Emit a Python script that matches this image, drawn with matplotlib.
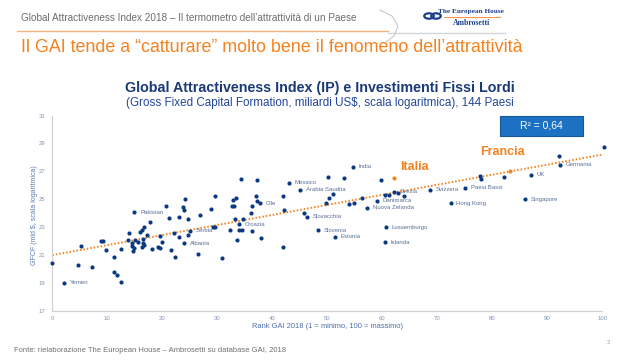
import matplotlib.pyplot as plt
from matplotlib import font_manager
from matplotlib.patches import Rectangle, Circle
from matplotlib.lines import Line2D

names = {f.name for f in font_manager.fontManager.ttflist}
if 'Liberation Sans Narrow' in names:
    NARROW, k = 'Liberation Sans Narrow', 1.0
else:
    NARROW, k = 'Liberation Sans', 0.82
plt.rcParams['font.family'] = 'Liberation Sans'

# Rank GAI 2018 (x) vs GFCF, scala logaritmica (y)
rank = [0.0, 2.2, 4.7, 5.3, 7.3, 8.9, 9.2, 9.8, 11.3, 11.3, 11.8, 12.4, 12.5,
        13.8, 13.9, 14.9, 14.4, 14.5, 14.8, 14.7, 15.1, 15.6, 15.9, 16.25,
        16.7, 16.5, 16.4, 16.6, 16.3, 17.2, 17.7, 18.1, 19.2, 19.5, 19.6,
        19.9, 20.6, 21.2, 21.5, 22.1, 22.3, 23.0, 23.0, 23.8, 23.9, 24.1,
        24.0, 24.7, 24.7, 25.1, 26.5, 26.9, 28.9, 29.6, 29.2, 29.5, 30.8,
        32.3, 32.8, 33.4, 32.7, 33.0, 33.2, 33.5, 33.9, 34.0, 34.4, 34.3,
        34.7, 36.2, 36.3, 36.3, 37.1, 37.2, 37.3, 37.7, 37.9, 41.9, 41.9,
        42.1, 43.0, 45.0, 45.8, 46.3, 48.3, 50.1, 50.3, 49.8, 51.0, 51.4,
        53.0, 54.6, 54.0, 54.9, 56.3, 57.2, 59.0, 59.8, 60.4, 61.3, 62.1,
        62.9, 63.9, 60.6, 60.5, 68.6, 72.4, 75.1, 77.8, 77.9, 82.1, 87.0,
        85.9, 92.2, 92.3, 100.3]
gfcf = [20.45, 19.03, 20.3, 21.66, 20.15, 22.04, 22.04, 21.4, 20.87, 19.82,
        19.6, 19.08, 21.42, 22.08, 22.6, 24.07, 21.85, 21.66, 21.5, 21.27,
        22.1, 21.96, 22.66, 22.8, 23.0, 22.18, 21.9, 21.75, 21.58, 22.44,
        23.4, 21.44, 21.6, 21.5, 22.37, 21.94, 24.5, 23.66, 21.39, 22.56,
        20.87, 23.7, 22.32, 24.47, 21.85, 25.02, 24.2, 23.6, 22.44, 22.75,
        21.1, 23.88, 24.33, 25.26, 23.0, 23.04, 20.77, 22.82, 24.95, 25.1,
        24.5, 24.5, 23.6, 22.1, 23.2, 22.8, 22.8, 26.45, 23.57, 24.0, 22.73,
        24.5, 25.26, 26.4, 24.9, 24.7, 22.25, 25.2, 21.56, 24.2, 26.2, 25.7,
        24.0, 23.75, 22.8, 26.58, 25.07, 24.76, 25.36, 22.32, 26.53, 27.34,
        24.66, 24.76, 25.07, 24.38, 24.88, 26.38, 25.29, 25.31, 25.55, 25.43,
        25.2, 23.0, 21.94, 25.7, 24.73, 25.83, 26.67, 26.43, 26.62, 26.74,
        25.02, 28.11, 27.49, 28.76]
country = ['', 'Yemen', '', '', '', '', '', '', '', '', '', '', '', '', '',
           'Pakistan', '', '', '', '', '', '', '', '', '', '', '', '', '',
           '', '', '', '', '', '', '', '', '', '', '', '', '', '', '',
           'Albania', '', '', '', '', 'Serbia', '', '', '', '', '', '', '',
           '', '', '', '', '', '', '', 'Croazia', '', '', '', '', '', '',
           '', '', '', '', 'Cile', '', '', '', '', 'Messico',
           'Arabia Saudita', '', 'Slovacchia', 'Slovenia', '', '', '', '',
           'Estonia', '', 'India', '', '', '', 'Nuova Zelanda', 'Danimarca',
           '', '', '', 'Svezia', '', '', 'Lussemburgo', 'Islanda',
           'Svizzera', 'Hong Kong', 'Paesi Bassi', '', '', '', 'UK',
           'Singapore', '', 'Germania', 'USA']

hl_rank = [62.2, 83.2]
hl_gfcf = [26.53, 27.05]
hl_name = ['Italia', 'Francia']

trend_x = [0, 100]
trend_y = [21.0, 28.2]

xticks = list(range(0, 101, 10))
yticks = list(range(17, 32, 2))

BLUE = '#0B3A84'
ORANGE = '#F5821F'
TICK = '#8596B4'
LAB = '#5A6F96'

fig = plt.figure(figsize=(6.37, 3.6), dpi=100)
W, H = 637, 360


def fx(px):
    return px / W


def fy(py):
    return 1 - py / H


# header
fig.text(fx(21), fy(18), 'Global Attractiveness Index 2018 \u2013 Il termometro dell\u2019attrattivit\u00e0 di un Paese',
         family=NARROW, fontsize=8.8 * k, color='#6E6E6E', va='center')
fig.add_artist(Line2D([fx(17), fx(388)], [fy(31), fy(31)], color='#F5B27A', lw=1.0))
fig.add_artist(Line2D([fx(388), fx(505)], [fy(33), fy(33)], color='#D5D5D5', lw=1.0))
fig.add_artist(Line2D([fx(380), fx(392), fx(398), fx(394), fx(386)],
                      [fy(10), fy(16), fy(26), fy(36), fy(42)], color='#C8C8C8', lw=0.8))
fig.add_artist(Circle((fx(429), fy(16)), 0.0075, transform=fig.transFigure,
                      fill=False, ec='#1B3F8F', lw=1.6))
fig.add_artist(Circle((fx(436), fy(16)), 0.0075, transform=fig.transFigure,
                      fill=False, ec='#1B3F8F', lw=1.6))
fig.text(fx(471), fy(11), 'The European House', family='Liberation Serif',
         fontsize=5.2, color='#1B3F8F', ha='center', va='center', fontweight='bold')
fig.add_artist(Line2D([fx(444), fx(500)], [fy(17), fy(17)], color=ORANGE, lw=0.6))
fig.text(fx(472), fy(23), 'Ambrosetti', family='Liberation Serif',
         fontsize=5.6, color='#1B3F8F', ha='center', va='center', fontweight='bold')

fig.text(fx(21), fy(48), 'Il GAI tende a \u201ccatturare\u201d molto bene il fenomeno dell\u2019attrattivit\u00e0',
         family=NARROW, fontsize=15.7 * k, color=ORANGE, va='center')

fig.text(fx(320), fy(88), 'Global Attractiveness Index (IP) e Investimenti Fissi Lordi',
         fontsize=10.3, fontweight='bold', color='#1A3A78', ha='center', va='center')
fig.text(fx(320), fy(103), '(Gross Fixed Capital Formation, miliardi US$, scala logaritmica), 144 Paesi',
         fontsize=8.4, color='#24479A', ha='center', va='center')

# R2 box
fig.add_artist(Rectangle((fx(500), fy(136)), fx(83), 20 / H, transform=fig.transFigure,
                         fc='#1D71C2', ec='#15589A', lw=0.8))
fig.text(fx(541.5), fy(126), 'R\u00b2 = 0,64', fontsize=7.5, color='white',
         ha='center', va='center')

# chart
ax = fig.add_axes([fx(52.3), fy(311), fx(602.3) - fx(52.3), fy(115.5) - fy(311)])
ax.plot(trend_x, trend_y, color=ORANGE, lw=1.4, linestyle=(0, (0.8, 1.0)),
        dash_capstyle='butt', zorder=2)
ax.scatter(rank, gfcf, s=9, color=BLUE, zorder=3, clip_on=False, linewidths=0)
ax.scatter(hl_rank, hl_gfcf, s=9, color=ORANGE, zorder=3, linewidths=0)

for x, y, name in zip(rank, gfcf, country):
    if not name:
        continue
    if name == 'USA':
        ax.annotate(name, (x, y), xytext=(0, 5.5), textcoords='offset points',
                    ha='center', va='bottom', fontsize=4.3, color=LAB, family=NARROW)
    else:
        ax.annotate(name, (x, y), xytext=(4.2, 0), textcoords='offset points',
                    ha='left', va='center', fontsize=4.6 * k + 0.6 * (1 - k) * 5,
                    color=LAB, family=NARROW)

ax.annotate(hl_name[0], (hl_rank[0], hl_gfcf[0]), xytext=(4.2, 3.5),
            textcoords='offset points', ha='left', va='bottom',
            fontsize=9.0, fontweight='bold', color=ORANGE, family=NARROW)
ax.annotate(hl_name[1], (hl_rank[1], hl_gfcf[1]), xytext=(-5.5, 9),
            textcoords='offset points', ha='center', va='bottom',
            fontsize=9.0, fontweight='bold', color=ORANGE, family=NARROW)

ax.set_xlim(0, 100)
ax.set_ylim(17, 31)
ax.set_xticks(xticks)
ax.set_yticks(yticks)
ax.tick_params(length=0, labelsize=4.3, labelcolor=TICK)
ax.tick_params(axis='x', pad=3.5)
ax.tick_params(axis='y', pad=5)
for s in ['top', 'right']:
    ax.spines[s].set_visible(False)
for s in ['left', 'bottom']:
    ax.spines[s].set_color('#D2D2D2')
    ax.spines[s].set_linewidth(0.9)

fig.text(fx(35), fy(215), 'GFCF (mld $, scala logaritmica)', rotation=90,
         family=NARROW, fontsize=6.2 * k, color='#5B7DB5', ha='center', va='center')
fig.text(fx(328), fy(327), 'Rank GAI 2018 (1 = minimo, 100 = massimo)',
         family=NARROW, fontsize=6.6 * k, color='#4A6FA8', ha='center', va='center')

fig.text(fx(14), fy(350), 'Fonte: rielaborazione The European House \u2013 Ambrosetti su database GAI, 2018',
         family=NARROW, fontsize=6.7 * k, color='#707070', va='center')
fig.text(fx(608), fy(343), '3', fontsize=4, color='#9A9A9A', ha='center', va='center')

fig.savefig('out.png', dpi=100)
